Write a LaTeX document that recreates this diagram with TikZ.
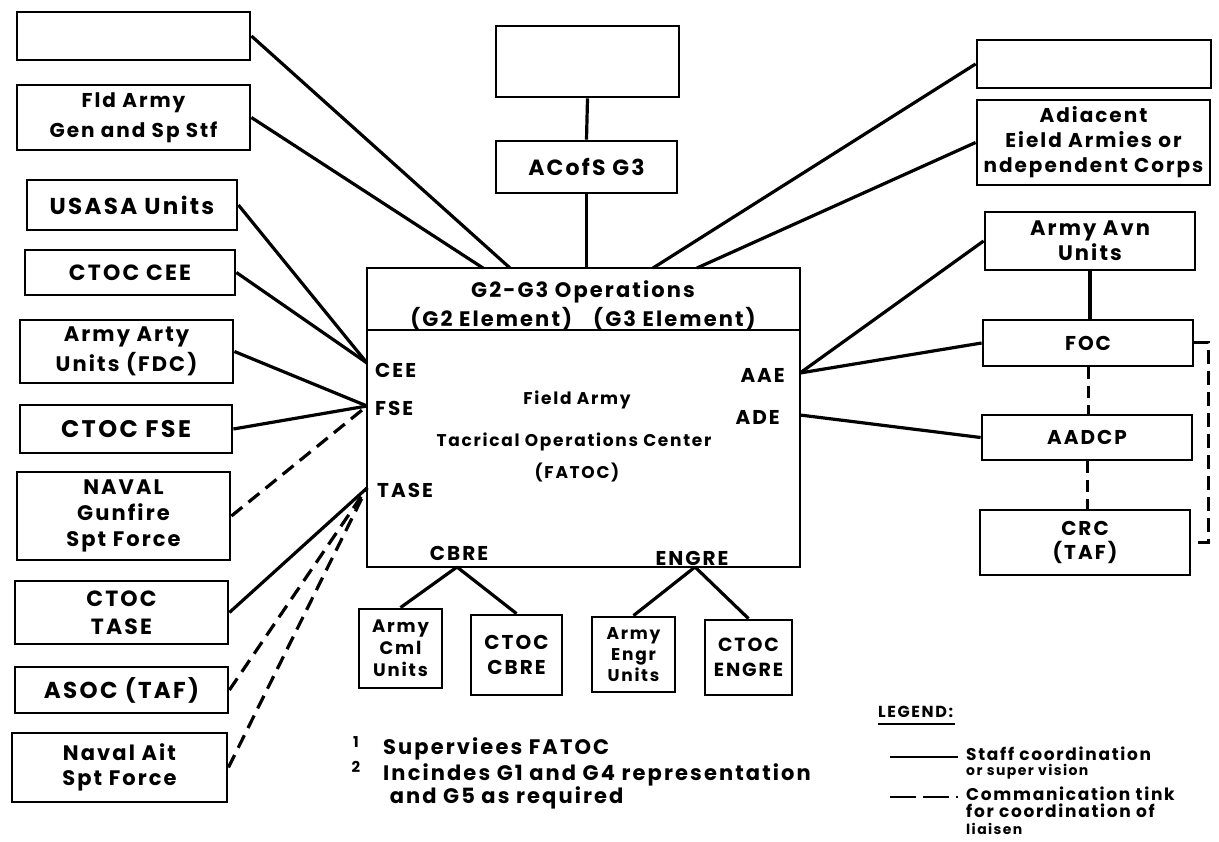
\documentclass[tikz,border=0pt]{standalone}
\usepackage{fontspec}
\setmainfont{Poppins}[LetterSpace=10]
\newcommand\fsz[2]{\fontsize{#1}{#2}\selectfont\bfseries}
\begin{document}
\begin{tikzpicture}[x=1pt,y=-1pt,
  box/.style={draw, line width=2.8pt, inner sep=0pt, align=center},
  ln/.style={line width=3.2pt},
  dl/.style={line width=3.2pt, dash pattern=on 14pt off 8pt},
  lbl/.style={inner sep=0pt}]
\useasboundingbox (0,0) rectangle (1219,842);
% left column
\node[box, minimum width=233pt, minimum height=48pt] (tl) at (133.5,36) {};
\node[box, minimum width=233pt, minimum height=65pt, font=\fsz{20}{30}] (fld) at (133.5,117.5) {Fld Army\\Gen and Sp Stf};
\node[box, minimum width=210pt, minimum height=50pt, font=\fsz{23}{28}] (usasa) at (132,205) {USASA Units};
\node[box, minimum width=210pt, minimum height=45pt, font=\fsz{22}{28}] (ctoccee) at (130,272.5) {CTOC CEE};
\node[box, minimum width=213pt, minimum height=63pt, font=\fsz{21}{30}] (arty) at (126.5,351.5) {Army Arty\\Units (FDC)};
\node[box, minimum width=212pt, minimum height=48pt, font=\fsz{24}{28}] (ctocfse) at (126,429) {CTOC FSE};
\node[box, minimum width=213pt, minimum height=88pt, font=\fsz{21}{26}] (naval) at (123.5,516) {NAVAL\\Gunfire\\Spt Force};
\node[box, minimum width=213pt, minimum height=63pt, font=\fsz{22}{28}] (ctoctase) at (121.5,612.5) {CTOC\\TASE};
\node[box, minimum width=213pt, minimum height=46pt, font=\fsz{23}{28}] (asoc) at (121.5,690) {ASOC (TAF)};
\node[box, minimum width=215pt, minimum height=69pt, font=\fsz{21}{25}] (navair) at (119.5,767.5) {Naval Ait\\Spt Force};
% top centre
\node[box, minimum width=183pt, minimum height=71pt] (topc) at (587.5,61.5) {};
\node[box, minimum width=181pt, minimum height=52pt, font=\fsz{22}{28}] (acofs) at (586.5,167) {ACofS G3};
% main box
\node[box, minimum width=433pt, minimum height=299pt] (main) at (583.5,417.5) {};
\coordinate (divl) at (367,330);
\coordinate (divr) at (800,330);
\draw[line width=2.8pt] (divl) -- (divr);
\node[lbl, font=\fsz{21}{29}, align=center] (hdr) at (583,306) {G2-G3 Operations\\(G2 Element)\quad(G3 Element)};
\node[lbl, anchor=west, font=\fsz{20}{24}] (tcee) at (375,370) {CEE};
\node[lbl, anchor=west, font=\fsz{20}{24}] (tfse) at (375,408) {FSE};
\node[lbl, anchor=west, font=\fsz{20}{24}] (ttase) at (377,490) {TASE};
\node[lbl, anchor=east, font=\fsz{20}{24}] (taae) at (785,375) {AAE};
\node[lbl, anchor=east, font=\fsz{20}{24}] (tade) at (780,417) {ADE};
\node[lbl, font=\fsz{17}{20}] (tfa) at (577,400) {Field Army};
\node[lbl, font=\fsz{17}{20}] (ttoc) at (574,442) {Tacrical Operations Center};
\node[lbl, font=\fsz{17}{20}] (tfatoc) at (577,473) {(FATOC)};
\node[lbl, font=\fsz{20}{24}] (tcbre) at (459,553) {CBRE};
\node[lbl, font=\fsz{20}{24}] (tengre) at (692,558) {ENGRE};
% right column
\node[box, minimum width=234pt, minimum height=48pt] (tr) at (1094,64) {};
\node[box, minimum width=233pt, minimum height=85pt, font=\fsz{20}{25}] (adj) at (1093.5,142.5) {Adiacent\\Eield Armies or\\ndependent Corps};
\node[box, minimum width=210pt, minimum height=58pt, font=\fsz{21}{25}] (avn) at (1090,241) {Army Avn\\Units};
\node[box, minimum width=210pt, minimum height=46pt, font=\fsz{20}{24}] (foc) at (1088,343) {FOC};
\node[box, minimum width=210pt, minimum height=45pt, font=\fsz{20}{24}] (aadcp) at (1087,437.5) {AADCP};
\node[box, minimum width=210pt, minimum height=65pt, font=\fsz{20}{24}] (crc) at (1085,542.5) {CRC\\(TAF)};
% bottom boxes
\node[box, minimum width=83pt, minimum height=79pt, font=\fsz{18}{22}] (cml) at (400.5,648.5) {Army\\Cml\\Units};
\node[box, minimum width=91pt, minimum height=80pt, font=\fsz{20}{25}] (ctoccbre) at (516.5,655) {CTOC\\CBRE};
\node[box, minimum width=83pt, minimum height=75pt, font=\fsz{17}{21}] (engr) at (633.5,654.5) {Army\\Engr\\Units};
\node[box, minimum width=87pt, minimum height=75pt, font=\fsz{19}{25}] (ctocengre) at (748.5,657.5) {CTOC\\ENGRE};
% attachment points on the main box
\coordinate (m1) at (483,268);
\coordinate (m2) at (510,268);
\coordinate (m4) at (653,268);
\coordinate (m5) at (697,268);
\coordinate (pCEE) at (367,363);
\coordinate (pFSE) at (367,406);
\coordinate (pTASE) at (367,488);
\coordinate (pAAE) at (800,373);
\coordinate (pADE) at (800,415);
\coordinate (pCB) at (457,567);
\coordinate (pEN) at (695,567);
% connectors
\draw[ln] (tl.east) -- (m2);
\draw[ln] (fld.east) -- (m1);
\draw[ln] (topc.south) -- (acofs.north);
\draw[ln] (acofs.south) -- (acofs.south |- main.north);
\draw[ln] (tr.west) -- (m4);
\draw[ln] (adj.west) -- (m5);
\draw[ln] (usasa.east) -- (pCEE);
\draw[ln] (ctoccee.east) -- (pCEE);
\draw[ln] (arty.east) -- (pFSE);
\draw[ln] (ctocfse.east) -- (pFSE);
\draw[dl] (naval.east) -- (pFSE);
\draw[ln] (ctoctase.east) -- (pTASE);
\draw[dl] (asoc.east) -- (pTASE);
\draw[dl] (navair.east) -- (pTASE);
\draw[ln] (avn.west) -- (pAAE);
\draw[ln] (foc.west) -- (pAAE);
\draw[ln] (aadcp.west) -- (pADE);
\draw[ln] (avn.south) -- (avn.south |- foc.north);
\draw[line width=3pt, dash pattern=on 12pt off 7pt] (foc.south) -- (foc.south |- aadcp.north);
\draw[line width=3pt, dash pattern=on 12pt off 7pt] (aadcp.south) -- (aadcp.south |- crc.north);
\draw[line width=3pt, dash pattern=on 14pt off 7pt] (foc.east) -- ++(14,0) |- (crc.east);
\draw[ln] (pCB) -- (cml.north);
\draw[ln] (pCB) -- (ctoccbre.north);
\draw[ln] (pEN) -- (engr.north);
\draw[ln] (pEN) -- (ctocengre.north);
% footnotes
\node[lbl, font=\fsz{15}{16}] (fn1) at (356,742) {1};
\node[lbl, anchor=west, font=\fsz{21}{22}] (fn1t) at (383,749) {Superviees FATOC};
\node[lbl, font=\fsz{15}{16}] (fn2) at (356,767) {2};
\node[lbl, anchor=north west, font=\fsz{21}{23}, align=left] (fn2t) at (383,763) {Incindes G1 and G4 representation\\\ and G5 as required};
% legend
\node[lbl, anchor=west, font=\fsz{16}{18}] (leg) at (878,712) {LEGEND:};
\coordinate (u1) at (878,724);
\coordinate (u2) at (955,724);
\draw[line width=2.2pt] (u1) -- (u2);
\coordinate (s1) at (890,757);
\coordinate (s2) at (958,757);
\draw[line width=2.8pt] (s1) -- (s2);
\node[lbl, anchor=north west, font=\fsz{17}{15}, align=left] (legs) at (966,747) {Staff coordination\\{\fontsize{14}{15}\selectfont or super vision}};
\coordinate (d1) at (890,797);
\coordinate (d2) at (958,797);
\draw[line width=2.8pt, dash pattern=on 26pt off 7pt] (d1) -- (d2);
\node[lbl, anchor=north west, font=\fsz{17}{17}, align=left] (legd) at (966,787) {Commanication tink\\for coordination of\\{\fontsize{14}{15}\selectfont liaisen}};
\end{tikzpicture}
\end{document}
